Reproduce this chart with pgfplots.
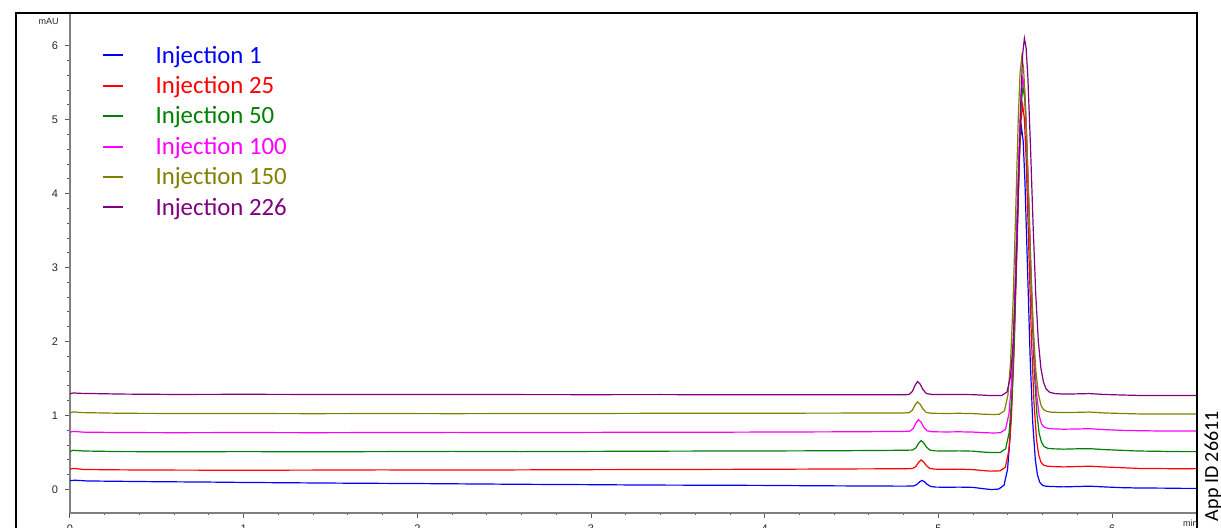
\documentclass[border=0pt]{standalone}
\usepackage{pgfplots}
\pgfplotsset{compat=1.18}
\usepackage{fontspec}
\setmainfont{Liberation Sans}
\newfontfamily\calib{Carlito}
\definecolor{cBlue}{RGB}{0,0,255}
\definecolor{cRed}{RGB}{255,0,0}
\definecolor{cGreen}{RGB}{0,128,0}
\definecolor{cMag}{RGB}{255,0,255}
\definecolor{cOlive}{RGB}{128,128,0}
\definecolor{cPurp}{RGB}{128,0,128}
\begin{document}
\begin{tikzpicture}
\useasboundingbox (-35pt,-7.65pt) rectangle (575.5pt,256.35pt);
\begin{axis}[
  at={(0pt,0pt)}, anchor=south west,
  scale only axis, width=563pt, height=249.35pt,
  xmin=0, xmax=6.483, ymin=-0.314, ymax=6.43,
  axis x line*=bottom, axis y line*=left,
  x axis line style={gray, line width=1.1pt},
  y axis line style={gray, line width=0.9pt},
  tick align=outside, major tick length=2.5pt, minor tick length=1.4pt,
  xtick={0,1,2,3,4,5,6}, ytick={0,1,2,3,4,5,6},
  minor x tick num=4, minor y tick num=4,
  tick style={black!65, line width=0.5pt},
  tick label style={font=\fontsize{5.5}{6}\selectfont, text=black!85},
  /pgf/number format/assume math mode=true,
  every axis plot/.append style={line width=0.6pt},
  legend cell align=left,
  legend image code/.code={\draw[#1, line width=1pt] (0pt,0pt) -- (10pt,0pt);},
  legend style={draw=none, fill=none, at={(0.028,0.9417)}, anchor=north west,
    inner sep=0pt, row sep=3.2pt,
    nodes={inner sep=0pt, text height=9.8pt, text depth=2.2pt, font=\fontsize{12.4}{14}\calib},
    /tikz/every odd column/.append style={column sep=15.8pt}},
]
\addplot[cBlue] coordinates {
(0,0.12) (0.03,0.125) (0.1,0.115) (0.3,0.11) (0.5,0.105) (0.8,0.1) (1.0,0.095) (1.3,0.09) (1.6,0.085) (2.0,0.08) (2.3,0.075) (2.6,0.07) (3.0,0.065) (3.3,0.06) (3.6,0.058) (4.0,0.055) (4.3,0.05) (4.6,0.047) (4.8,0.045)
(4.855,0.047) (4.875,0.065) (4.89,0.1) (4.905,0.123) (4.92,0.103) (4.935,0.07) (4.955,0.041) (4.985,0.032)
(5.05,0.03) (5.12,0.032) (5.2,0.028) (5.26,0.01) (5.3,0.0) (5.33,0.002)
(5.348,0.007) (5.378,0.059) (5.398,0.273) (5.413,0.72) (5.428,1.56) (5.443,2.8) (5.458,4.08) (5.468,4.68) (5.478,4.9)
(5.488,4.71) (5.498,4.17) (5.513,2.99) (5.528,1.79) (5.543,0.9) (5.558,0.4) (5.57,0.2) (5.583,0.1) (5.598,0.058) (5.615,0.045)
(5.65,0.04) (5.72,0.035) (5.8,0.04) (5.87,0.045) (5.95,0.035) (6.05,0.025) (6.15,0.02) (6.3,0.018) (6.4,0.015) (6.49,0.015)
};
\addlegendentry{\textcolor{cBlue}{Injection 1}}
\addplot[cRed] coordinates {
(0,0.275) (0.02,0.285) (0.08,0.27) (0.3,0.265) (0.6,0.262) (1.0,0.26) (1.4,0.262) (1.8,0.265) (2.2,0.262) (2.6,0.265) (3.0,0.268) (3.4,0.27) (3.8,0.272) (4.2,0.275) (4.5,0.278) (4.8,0.28)
(4.85,0.283) (4.87,0.31) (4.885,0.365) (4.9,0.4) (4.915,0.373) (4.93,0.324) (4.95,0.285) (4.98,0.275)
(5.05,0.272) (5.12,0.275) (5.2,0.268) (5.26,0.255) (5.3,0.248) (5.33,0.25)
(5.355,0.252) (5.385,0.3) (5.405,0.517) (5.42,0.97) (5.435,1.83) (5.45,3.08) (5.465,4.37) (5.475,4.98) (5.485,5.2)
(5.495,5.01) (5.505,4.47) (5.52,3.28) (5.535,2.07) (5.55,1.18) (5.565,0.67) (5.577,0.47) (5.59,0.37) (5.605,0.33) (5.625,0.315)
(5.66,0.31) (5.72,0.305) (5.8,0.31) (5.87,0.315) (5.95,0.305) (6.05,0.295) (6.15,0.285) (6.3,0.282) (6.4,0.28) (6.49,0.282)
};
\addlegendentry{\textcolor{cRed}{Injection 25}}
\addplot[cGreen] coordinates {
(0,0.515) (0.02,0.53) (0.08,0.52) (0.3,0.512) (0.6,0.51) (1.0,0.512) (1.4,0.51) (1.8,0.512) (2.2,0.515) (2.6,0.512) (3.0,0.515) (3.4,0.518) (3.8,0.52) (4.2,0.522) (4.5,0.525) (4.8,0.53)
(4.85,0.533) (4.87,0.562) (4.885,0.622) (4.9,0.66) (4.915,0.631) (4.93,0.577) (4.95,0.534) (4.98,0.522)
(5.05,0.52) (5.12,0.522) (5.2,0.518) (5.26,0.505) (5.3,0.5) (5.33,0.5)
(5.357,0.502) (5.387,0.55) (5.407,0.767) (5.422,1.22) (5.437,2.08) (5.452,3.33) (5.467,4.62) (5.477,5.23) (5.487,5.45)
(5.497,5.28) (5.507,4.79) (5.522,3.69) (5.537,2.52) (5.552,1.6) (5.567,1.02) (5.58,0.76) (5.593,0.64) (5.608,0.58) (5.63,0.556)
(5.66,0.55) (5.72,0.545) (5.8,0.55) (5.87,0.552) (5.95,0.54) (6.05,0.53) (6.15,0.52) (6.3,0.515) (6.4,0.512) (6.49,0.512)
};
\addlegendentry{\textcolor{cGreen}{Injection 50}}
\addplot[cMag] coordinates {
(0,0.775) (0.02,0.785) (0.08,0.775) (0.3,0.77) (0.6,0.768) (1.0,0.77) (1.4,0.768) (1.8,0.77) (2.2,0.772) (2.6,0.77) (3.0,0.772) (3.4,0.775) (3.8,0.775) (4.2,0.778) (4.5,0.78) (4.8,0.785)
(4.835,0.788) (4.855,0.825) (4.87,0.898) (4.885,0.945) (4.9,0.91) (4.915,0.845) (4.935,0.793) (4.965,0.78)
(5.05,0.778) (5.12,0.78) (5.2,0.776) (5.26,0.768) (5.3,0.765) (5.33,0.765)
(5.356,0.767) (5.386,0.813) (5.406,1.02) (5.421,1.46) (5.436,2.29) (5.451,3.5) (5.466,4.76) (5.476,5.34) (5.486,5.56)
(5.496,5.4) (5.506,4.92) (5.521,3.85) (5.536,2.72) (5.551,1.83) (5.566,1.27) (5.58,1.0) (5.593,0.89) (5.608,0.845) (5.63,0.826)
(5.66,0.82) (5.72,0.815) (5.8,0.818) (5.87,0.822) (5.95,0.81) (6.05,0.8) (6.15,0.795) (6.3,0.79) (6.4,0.79) (6.49,0.792)
};
\addlegendentry{\textcolor{cMag}{Injection 100}}
\addplot[cOlive] coordinates {
(0,1.035) (0.02,1.05) (0.06,1.04) (0.3,1.03) (0.6,1.028) (1.0,1.027) (1.4,1.025) (1.8,1.027) (2.2,1.025) (2.6,1.027) (3.0,1.028) (3.4,1.03) (3.8,1.03) (4.2,1.032) (4.5,1.033) (4.8,1.035)
(4.83,1.038) (4.85,1.072) (4.865,1.141) (4.88,1.185) (4.895,1.152) (4.91,1.091) (4.93,1.042) (4.96,1.03)
(5.05,1.028) (5.12,1.03) (5.2,1.026) (5.26,1.018) (5.3,1.015) (5.33,1.015)
(5.35,1.017) (5.38,1.063) (5.4,1.274) (5.415,1.716) (5.43,2.55) (5.445,3.77) (5.46,5.04) (5.47,5.63) (5.48,5.85)
(5.49,5.7) (5.5,5.26) (5.515,4.26) (5.53,3.16) (5.545,2.24) (5.56,1.63) (5.575,1.3) (5.59,1.14) (5.605,1.08) (5.625,1.055)
(5.65,1.045) (5.72,1.04) (5.8,1.043) (5.87,1.047) (5.95,1.035) (6.05,1.028) (6.15,1.022) (6.3,1.02) (6.4,1.02) (6.49,1.022)
};
\addlegendentry{\textcolor{cOlive}{Injection 150}}
\addplot[cPurp] coordinates {
(0,1.295) (0.02,1.305) (0.06,1.3) (0.3,1.29) (0.6,1.285) (1.0,1.287) (1.4,1.285) (1.8,1.283) (2.2,1.285) (2.6,1.283) (3.0,1.282) (3.4,1.283) (3.8,1.28) (4.2,1.28) (4.5,1.28) (4.8,1.28)
(4.83,1.284) (4.85,1.325) (4.865,1.407) (4.88,1.46) (4.895,1.425) (4.91,1.354) (4.93,1.298) (4.96,1.285)
(5.05,1.283) (5.12,1.285) (5.2,1.282) (5.26,1.275) (5.3,1.27) (5.33,1.27)
(5.365,1.272) (5.395,1.318) (5.415,1.528) (5.43,1.97) (5.445,2.81) (5.46,4.03) (5.475,5.29) (5.485,5.89) (5.495,6.1)
(5.505,5.97) (5.515,5.57) (5.53,4.64) (5.545,3.58) (5.56,2.66) (5.575,2.01) (5.59,1.64) (5.605,1.45) (5.62,1.36) (5.64,1.315)
(5.67,1.297) (5.72,1.29) (5.8,1.293) (5.87,1.297) (5.95,1.285) (6.05,1.278) (6.15,1.272) (6.3,1.27) (6.4,1.27) (6.49,1.272)
};
\addlegendentry{\textcolor{cPurp}{Injection 226}}
\end{axis}
\draw[line width=1pt] (-27pt,-12pt) -- (-27pt,249.85pt) -- (563.5pt,249.85pt) -- (563.5pt,-12pt);
\node[anchor=east, inner sep=0pt, font=\fontsize{4.5}{5}\selectfont, text=black!85] at (-5.5pt,245.6pt) {mAU};
\node[anchor=north east, inner sep=0pt, font=\fontsize{4.5}{5}\selectfont, text=black!85] at (564pt,-3.3pt) {min};
\node[rotate=90, anchor=east, inner sep=0pt, font=\fontsize{10}{12}\calib] at (571.5pt,50.85pt) {App ID 26611};
\end{tikzpicture}
\end{document}
